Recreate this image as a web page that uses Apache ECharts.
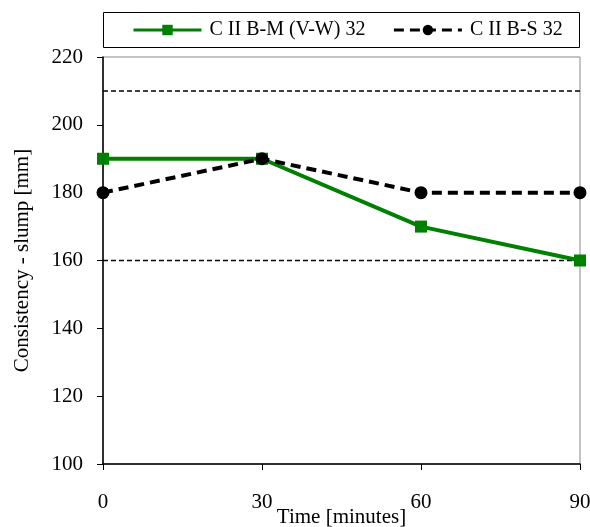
<!DOCTYPE html>
<html>
<head>
<meta charset="utf-8">
<script src="https://cdn.jsdelivr.net/npm/echarts@6/dist/echarts.min.js"></script>
<style>
  html, body { margin: 0; padding: 0; background: #fff; }
  #chart { width: 590px; height: 527px; }
</style>
</head>
<body>
<div id="chart"></div>
<script>
const times = [0, 30, 60, 90];
const bmValues = [190, 190, 170, 160];
const bsValues = [180, 190, 180, 180];
const upperLimit = 210;
const lowerLimit = 160;

const chart = echarts.init(document.getElementById('chart'));
const font = 'Liberation Serif';

const limitSeries = (v) => ({
  type: 'line',
  data: [[times[0], v], [times[times.length - 1], v]],
  symbol: 'none',
  silent: true,
  lineStyle: { color: '#000', width: 1.5, type: [5, 3] },
  z: 1
});

const options = {
  animation: false,
  textStyle: { fontFamily: font },
  grid: {
    left: 103, right: 10, top: 57, bottom: 63,
    outerBoundsMode: 'none',
    show: true, borderColor: '#888', borderWidth: 1
  },
  // legend frame
  graphic: [{
    type: 'rect',
    shape: { x: 103.5, y: 12.5, width: 476, height: 35 },
    style: { fill: '#fff', stroke: '#000', lineWidth: 1 },
    z: 0
  }],
  legend: {
    data: ['C II B-M (V-W) 32', 'C II B-S 32'],
    left: 127, top: 15,
    padding: 5,
    itemGap: 27,
    itemWidth: 68, itemHeight: 13,
    lineStyle: { width: 3 },
    textStyle: { fontFamily: font, fontSize: 20, color: '#000', padding: [0, 0, 0, 3] },
    z: 5
  },
  xAxis: {
    type: 'value', min: 0, max: 90, interval: 30,
    name: 'Time [minutes]', nameLocation: 'middle', nameGap: 43,
    nameMoveOverlap: false,
    nameTextStyle: { fontFamily: font, fontSize: 21, color: '#000' },
    axisLine: { lineStyle: { color: '#000', width: 1.5 } },
    axisTick: { show: true, length: 6, lineStyle: { color: '#000' } },
    axisLabel: { fontFamily: font, fontSize: 21, color: '#000', margin: 28 },
    splitLine: { show: false }
  },
  yAxis: {
    type: 'value', min: 100, max: 220, interval: 20,
    name: 'Consistency - slump [mm]', nameLocation: 'middle', nameGap: 70,
    nameMoveOverlap: false,
    nameTextStyle: { fontFamily: font, fontSize: 21, color: '#000' },
    axisLine: { show: true, lineStyle: { color: '#000', width: 1.5 } },
    axisTick: { show: true, length: 6, lineStyle: { color: '#000' } },
    axisLabel: { fontFamily: font, fontSize: 21, color: '#000', margin: 20 },
    splitLine: { show: false }
  },
  series: [
    limitSeries(upperLimit),
    limitSeries(lowerLimit),
    {
      name: 'C II B-M (V-W) 32',
      type: 'line',
      data: times.map((t, i) => [t, bmValues[i]]),
      symbol: 'rect', symbolSize: 12,
      itemStyle: { color: '#008000' },
      lineStyle: { color: '#008000', width: 4 },
      z: 3
    },
    {
      name: 'C II B-S 32',
      type: 'line',
      data: times.map((t, i) => [t, bsValues[i]]),
      symbol: 'circle', symbolSize: 13,
      itemStyle: { color: '#000' },
      lineStyle: { color: '#000', width: 4, type: [10, 6] },
      z: 4
    }
  ]
};

chart.setOption(options);
</script>
</body>
</html>
